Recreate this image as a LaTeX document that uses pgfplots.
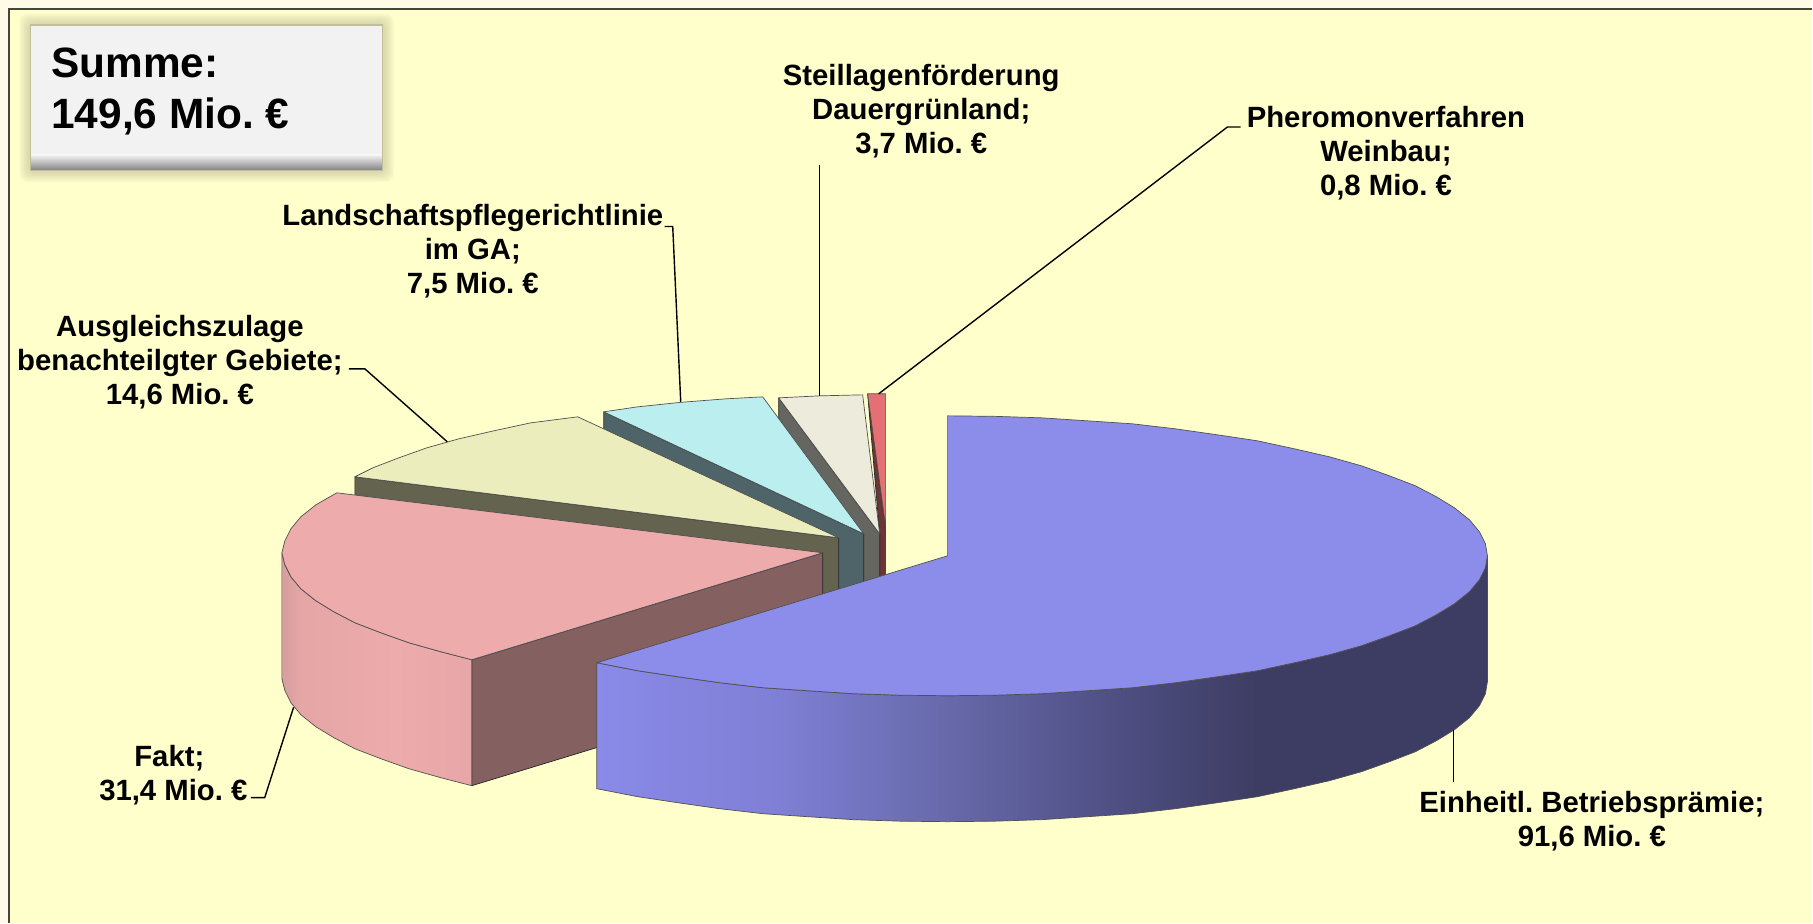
\documentclass[border=0pt]{standalone}
\usepackage{fontspec}
\setmainfont{Liberation Sans}
\frenchspacing
\usepackage{pgfplots}
\pgfplotsset{compat=1.18}
\definecolor{outerbg}{HTML}{FFFBE6}
\definecolor{innerbg}{HTML}{FFFFCC}
\definecolor{frameline}{HTML}{45453A}
\definecolor{edge}{HTML}{505050}
\definecolor{cblue}{HTML}{8C8CEB}
\definecolor{cpink}{HTML}{EDABAC}
\definecolor{cpinkw}{HTML}{846060}
\definecolor{colive}{HTML}{ECEDBD}
\definecolor{colivew}{HTML}{636350}
\definecolor{ccyan}{HTML}{BAEEEF}
\definecolor{ccyanw}{HTML}{4F6468}
\definecolor{cbeige}{HTML}{ECEBDC}
\definecolor{cbeigew}{HTML}{666660}
\definecolor{cred}{HTML}{E57073}
\definecolor{credw}{HTML}{6C3538}
\pgfdeclarehorizontalshading{bluesidereal}{100bp}{
  rgb(0bp)=(0.54,0.54,0.91);
  rgb(25bp)=(0.54,0.54,0.91);
  rgb(35bp)=(0.50,0.50,0.84);
  rgb(45bp)=(0.40,0.41,0.66);
  rgb(55bp)=(0.30,0.30,0.50);
  rgb(62bp)=(0.24,0.24,0.39);
  rgb(100bp)=(0.24,0.24,0.39)}
\pgfdeclarehorizontalshading{pinkside}{100bp}{
  rgb(0bp)=(0.84,0.62,0.62);
  rgb(25bp)=(0.84,0.62,0.62);
  rgb(30bp)=(0.90,0.65,0.65);
  rgb(55bp)=(0.93,0.67,0.67);
  rgb(75bp)=(0.91,0.65,0.66);
  rgb(100bp)=(0.91,0.65,0.66)}
\tikzset{lab/.style={font=\fontsize{14.65}{17}\selectfont\bfseries,align=center,inner sep=0pt}}
\pgfplotsset{
  wall/.style={draw=black!85,line width=0.35pt,line join=round},
  face/.style={draw=edge,line width=0.35pt,line join=round},
  leader/.style={draw=black,line width=0.7pt},
}
\begin{document}
\begin{tikzpicture}
\begin{axis}[
  scale only axis,width=906.5pt,height=461.5pt,
  xmin=0,xmax=1813,ymin=0,ymax=923,y dir=reverse,
  hide axis,clip=false,
]
% backgrounds
\addplot[fill=outerbg,draw=none] coordinates {(0,0)(1813,0)(1813,923)(0,923)} --cycle;
\addplot[fill=innerbg,draw=none] coordinates {(9,9)(1813,9)(1813,923)(9,923)} --cycle;
\addplot[draw=frameline,line width=0.75pt] coordinates {(9,923)(9,9)(1813,9)};
% summary box with glow
\foreach \g in {11,9,7,5,3}{
  \edef\temp{\noexpand\fill[black!35!innerbg,opacity=0.09,rounded corners=4pt]
    (axis cs:{30.7-\g},{25-\g}) rectangle (axis cs:{382.7+\g},{170.7+\g});}
  \temp
}
\addplot[fill=black!5,draw=none] coordinates {(30.7,25)(382.7,25)(382.7,170.7)(30.7,170.7)} --cycle;
\addplot[draw=none,top color=black!5,bottom color=black!50] coordinates {(30.7,155)(382.7,155)(382.7,170.7)(30.7,170.7)} --cycle;
\addplot[draw=innerbg!75!black,line width=0.75pt] coordinates {(30.7,25)(382.7,25)(382.7,170.7)(30.7,170.7)} --cycle;
\node[anchor=base west,align=left,inner sep=0pt,font=\fontsize{21.2}{25.5}\selectfont\bfseries] at (axis cs:51,129) {Summe:\\149,6 Mio. €};
% red slice
\addplot[fill=credw,wall] coordinates {(868,394)(886,527)(886,576)(880,578)(880,534)} --cycle;
\addplot[fill=cred,face] coordinates {(868,394)(886,394)(886,527)} --cycle;
% beige slice
\addplot[fill=cbeigew,wall] coordinates {(779,398)(880,534)(880,660)(779,524)} --cycle;
\addplot[fill=cbeige,face] coordinates {(880,534)(779,398)(820,396)(863,395)} --cycle;
% cyan slice
\addplot[fill=ccyanw,wall] coordinates {(604,412)(864,534)(864,660)(604,538)} --cycle;
\addplot[fill=ccyan,face] coordinates {(864,534)(604,412)(638,407)(681,402.5)(726,399)(763,397)} --cycle;
% olive slice
\addplot[fill=colivew,wall] coordinates {(355,477)(839,538)(839,664)(355,603)} --cycle;
\addplot[fill=colive,face] coordinates {(839,538)(355,477)(373,468)(399,458)(427,448)(459,439)(494,431)(531,423)(578,417)} --cycle;
% pink slice
\addplot[fill=cpinkw,wall] coordinates {(823,553)(472,660)(472,786)(823,679)} --cycle;
\addplot[shade,shading=pinkside,face] coordinates {
 (282,553)(285,565)(291,577)(301,589)(316,601)(334,612)(355,623)(381,633)(409,643)(441,652)(472,660)
 (472,786)(441,778)(409,769)(381,759)(355,749)(334,738)(316,727)(301,715)(291,703)(285,691)(282,679)} --cycle;
\addplot[fill=cpink,face] coordinates {
 (823,553)(472,660)(441,652)(409,643)(381,633)(355,623)(334,612)(316,601)(301,589)(291,577)(285,565)(282,553)
 (285,541)(291,529)(301,517)(316,505)(337,493)} --cycle;
% blue slice
\addplot[shade,shading=bluesidereal,face] coordinates {
 (597,663)(638,671)(678,677)(720,683)(763,688)(808,691)(854,694)(901,695.5)(948,696)(995,695.5)(1042,694)(1088,691)
 (1133,688)(1176,683)(1218,677)(1258,671)(1295,663)(1330,655)(1362,646)(1390,636)(1416,626)(1437,615)(1455,604)
 (1470,592)(1480,580)(1486,568)(1488,556)
 (1488,682)(1486,694)(1480,706)(1470,718)(1455,730)(1437,741)(1416,752)(1390,762)(1362,772)(1330,781)(1295,789)
 (1258,797)(1218,803)(1176,809)(1133,814)(1088,817)(1042,820)(995,821.5)(948,822)(901,821.5)(854,820)(808,817)
 (763,814)(720,809)(678,803)(638,797)(597,789)} --cycle;
\addplot[fill=cblue,face] coordinates {
 (948,556)(948,416)(995,416.5)(1042,418)(1088,421)(1133,424)(1176,429)(1218,435)(1258,441)(1295,449)(1330,457)
 (1362,466)(1390,476)(1416,486)(1437,497)(1455,508)(1470,520)(1480,532)(1486,544)(1488,556)
 (1486,568)(1480,580)(1470,592)(1455,604)(1437,615)(1416,626)(1390,636)(1362,646)(1330,655)(1295,663)(1258,671)
 (1218,677)(1176,683)(1133,688)(1088,691)(1042,694)(995,695.5)(948,696)(901,695.5)(854,694)(808,691)(763,688)
 (720,683)(678,677)(638,671)(597,663)} --cycle;
% leaders
\addplot[leader] coordinates {(1454,730)(1454,782)};
\addplot[leader] coordinates {(293.7,707.6)(264.8,798)(251,798)};
\addplot[leader] coordinates {(349,369)(365,369)(447.5,442)};
\addplot[leader] coordinates {(665,226.6)(673,226.6)(681,402)};
\addplot[leader] coordinates {(820,165)(820,396)};
\addplot[leader] coordinates {(1241,127)(1228,127)(879,394)};
% labels
\node[lab] at (axis cs:1592.5,821) {Einheitl. Betriebsprämie;\\91,6 Mio. €};
\node[lab] at (axis cs:173.4,775) {Fakt;\hspace*{4pt}\\31,4 Mio. €};
\node[lab] at (axis cs:180,362) {Ausgleichszulage\\benachteilgter Gebiete;\\14,6 Mio. €};
\node[lab] at (axis cs:473,251) {Landschaftspflegerichtlinie\\im GA;\\7,5 Mio. €};
\node[lab] at (axis cs:921.6,111.5) {Steillagenförderung\\Dauergrünland;\\3,7 Mio. €};
\node[lab] at (axis cs:1386.5,153.5) {Pheromonverfahren\\Weinbau;\\0,8 Mio. €};
\end{axis}
\end{tikzpicture}
\end{document}
